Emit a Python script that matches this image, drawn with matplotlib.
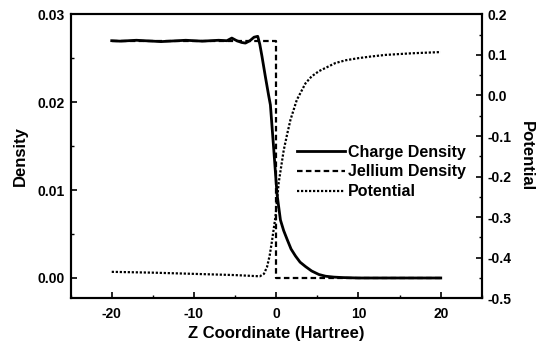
import numpy as np
import matplotlib
matplotlib.use("Agg")
import matplotlib.pyplot as plt
from matplotlib.ticker import MultipleLocator

plt.rcParams['font.family'] = ['Liberation Sans', 'DejaVu Sans']
plt.rcParams['axes.unicode_minus'] = False

# electron density across the jellium surface
z_charge = [-20, -19, -18, -17, -16, -15, -14, -13, -12, -11, -10, -9, -8, -7, -6,
            -5.4, -4.8, -4.2, -3.75, -3.2, -2.7, -2.25, -2.0, -1.73, -1.32, -0.91,
            -0.71, -0.3, 0.1, 0.51, 0.9, 1.32, 1.8, 2.34, 2.9, 3.56, 4.3, 5.18, 6, 7,
            8, 10, 12, 14, 16, 18, 20]
charge = [0.0270, 0.02695, 0.0270, 0.02705, 0.0270, 0.02695, 0.0269, 0.02695, 0.0270,
          0.02705, 0.0270, 0.02695, 0.0270, 0.02705, 0.0270,
          0.0273, 0.0270, 0.0268, 0.02673, 0.0270, 0.0274, 0.0275, 0.0266, 0.0252,
          0.0229, 0.0207, 0.0197, 0.0146, 0.0095, 0.0066, 0.0054, 0.0044, 0.0033,
          0.0025, 0.0018, 0.0013, 0.0008, 0.0004, 0.0002, 0.0001,
          0.00005, 0.0, 0.0, 0.0, 0.0, 0.0, 0.0]

# background step density
z_jell = [-20, 0, 0, 20]
jellium = [0.0270, 0.0270, 0.0, 0.0]

# effective potential
z_pot = [-20, -15, -10, -5, -2.0, -1.5, -1.12, -0.8, -0.51, -0.1, 0.3, 0.91, 1.3,
         1.73, 2.5, 3.56, 4.3, 5.2, 6, 7.2, 8.5, 10, 11.5, 13.3, 16.5, 20]
potential = [-0.435, -0.437, -0.440, -0.443, -0.446, -0.440, -0.423, -0.395, -0.358,
             -0.300, -0.215, -0.135, -0.098, -0.060, -0.011, 0.030, 0.047, 0.060,
             0.068, 0.080, 0.087, 0.092, 0.096, 0.100, 0.104, 0.107]

fig = plt.figure(figsize=(5.39, 3.5), dpi=100)
ax = fig.add_axes([0.131, 0.148, 0.763, 0.811])
ax2 = ax.twinx()

l1, = ax.plot(z_charge, charge, color='black', lw=2.0, label='Charge Density')
l2, = ax.plot(z_jell, jellium, color='black', lw=1.6, ls=(0, (2.5, 1.5)),
              label='Jellium Density')
l3, = ax2.plot(z_pot, potential, color='black', lw=1.6, ls=(0, (1, 0.8)),
               label='Potential')

ax.set_xlim(-25, 25)
ax.set_ylim(-0.0023, 0.03)
ax2.set_ylim(-0.5, 0.2)

ax.xaxis.set_major_locator(MultipleLocator(10))
ax.xaxis.set_minor_locator(MultipleLocator(5))
ax.yaxis.set_major_locator(MultipleLocator(0.01))
ax.yaxis.set_minor_locator(MultipleLocator(0.005))
ax2.yaxis.set_major_locator(MultipleLocator(0.1))
ax2.yaxis.set_minor_locator(MultipleLocator(0.05))
ax.yaxis.set_major_formatter(plt.FormatStrFormatter('%.2f'))
ax2.yaxis.set_major_formatter(plt.FormatStrFormatter('%.1f'))

for a in (ax, ax2):
    a.tick_params(which='major', direction='in', length=4, width=1.2,
                  labelsize=10, pad=4)
    a.tick_params(which='minor', direction='in', length=2.5, width=1.0)
    for lab in a.get_xticklabels() + a.get_yticklabels():
        lab.set_fontweight('bold')
    for s in a.spines.values():
        s.set_linewidth(1.5)
ax.tick_params(axis='x', pad=6)

ax.set_xlabel('Z Coordinate (Hartree)', fontsize=12, fontweight='bold', labelpad=4)
ax.set_ylabel('Density', fontsize=12, fontweight='bold', labelpad=7)
ax2.set_ylabel('Potential', fontsize=12, fontweight='bold', rotation=270,
               labelpad=16)

ax.legend(handles=[l1, l2, l3], loc='center left', bbox_to_anchor=(0.55, 0.445),
          frameon=False, prop={'size': 11.5, 'weight': 'bold'}, handlelength=3.0,
          handletextpad=0.2, labelspacing=0.3, borderaxespad=0, borderpad=0)

fig.savefig('out.png', dpi=100)
